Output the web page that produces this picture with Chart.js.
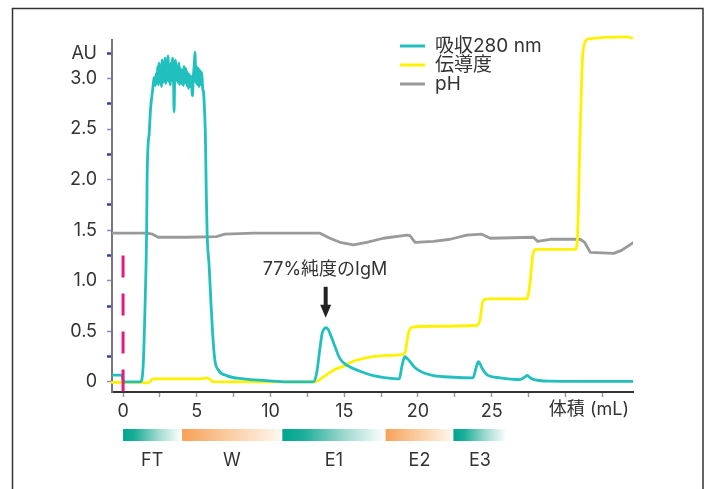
<!DOCTYPE html>
<html>
<head>
<meta charset="utf-8">
<script src="https://cdn.jsdelivr.net/npm/chart.js@4/dist/chart.umd.min.js"></script>
<style>
  body { margin: 0; background: #fff; }
  canvas { display: block; }
</style>
</head>
<body>
<canvas id="chromChart" width="710" height="489"></canvas>
<script>
// Absorbance at 280 nm (AU) against elution volume (mL), in three pieces
const absRiseVol = [-0.75, -0.1, 0.05, 1.18, 1.36, 1.5, 1.6, 1.63, 1.7, 1.77, 1.86, 2.0, 2.1];
const absRiseVal = [0.066, 0.066, 0.0, 0.0, 0.15, 0.8, 1.5, 2.0, 2.35, 2.45, 2.69, 2.88, 3.0];

const absTopVol = [2.15, 2.2, 2.25, 2.3, 2.35, 2.4, 2.45, 2.5, 2.55, 2.6, 2.65, 2.7, 2.75, 2.8,
    2.85, 2.9, 2.95, 3.0, 3.05, 3.1, 3.15, 3.2, 3.25, 3.3, 3.36, 3.42, 3.46, 3.5, 3.55, 3.6, 3.66,
    3.72, 3.78, 3.84, 3.9, 3.96, 4.02, 4.08, 4.14, 4.2, 4.26, 4.32, 4.38, 4.44, 4.5, 4.56, 4.62,
    4.68, 4.71, 4.76, 4.82, 4.88, 4.93, 4.98, 5.04, 5.1, 5.16, 5.22, 5.28, 5.34, 5.4, 5.46, 5.52];
const absTopVal = [3.01, 2.93, 3.05, 2.97, 3.12, 2.94, 3.15, 2.98, 3.08, 2.92, 3.18, 2.96, 3.1, 2.97,
    3.2, 2.95, 3.08, 2.98, 3.22, 2.97, 3.12, 2.94, 3.15, 2.98, 3.2, 3.0, 2.67, 3.0, 3.18, 2.98, 3.12,
    2.96, 3.15, 2.94, 3.1, 2.95, 3.08, 2.93, 3.12, 2.96, 3.1, 2.93, 3.06, 2.9, 3.04, 2.92, 3.02,
    2.86, 2.83, 3.0, 3.12, 3.26, 2.96, 3.12, 2.94, 3.1, 2.92, 3.08, 2.94, 3.06, 2.9, 2.86, 2.7];

const absTailVol = [5.58, 5.64, 5.7, 5.84, 5.95, 6.07, 6.22, 6.45, 7.02, 8.15, 9.73, 11.1, 12.9,
    13.13, 13.35, 13.5, 13.62, 13.76, 13.9, 14.03, 14.37, 14.71, 15.17, 16.07, 16.97, 17.88, 18.74,
    18.9, 19.05, 19.12, 19.2, 19.35, 19.8, 20.37, 21.05, 22.4, 23.72, 23.94, 24.05, 24.1, 24.17,
    24.33, 24.67, 25.57, 26.93, 27.3, 27.39, 27.5, 27.73, 28.97, 31.0, 34.6];
const absTailVal = [2.45, 1.9, 1.47, 1.14, 0.81, 0.49, 0.22, 0.12, 0.062, 0.03, 0.013, 0.0, 0.0,
    0.09, 0.33, 0.48, 0.52, 0.535, 0.52, 0.48, 0.35, 0.23, 0.165, 0.105, 0.062, 0.04, 0.03,
    0.15, 0.235, 0.25, 0.24, 0.22, 0.14, 0.09, 0.062, 0.046, 0.04, 0.14, 0.19, 0.2, 0.19, 0.14,
    0.072, 0.04, 0.023, 0.055, 0.065, 0.055, 0.03, 0.007, 0.005, 0.005];

// Conductivity trace (drawn on the same scale)
const condVol = [-0.75, 1.3, 1.59, 1.8, 2.04, 5.2, 5.5, 5.66, 5.85, 6.11, 13.01, 13.6, 14.26,
    15.17, 15.39, 16.52, 17.65, 18.9, 19.12, 19.35, 19.58, 21.05, 24.0, 24.2, 24.4, 24.67, 27.39,
    27.6, 27.8, 28.0, 30.67, 30.82, 30.96, 31.12, 31.23, 31.57, 34.2, 34.5];
const condVal = [-0.005, -0.005, -0.01, 0.0, 0.03, 0.03, 0.035, 0.04, 0.03, 0.0, 0.0, 0.05, 0.115,
    0.17, 0.19, 0.24, 0.26, 0.27, 0.29, 0.48, 0.54, 0.55, 0.56, 0.61, 0.795, 0.82, 0.82,
    0.98, 1.27, 1.31, 1.31, 1.44, 2.26, 3.08, 3.31, 3.39, 3.41, 3.4];

// pH trace
const phVol = [-0.75, 1.6, 2.0, 2.38, 4.3, 6.34, 6.9, 8.83, 13.35, 14.03, 14.71, 15.62, 16.52,
    17.65, 19.24, 19.46, 19.8, 21.05, 22.18, 23.31, 24.33, 24.9, 27.83, 28.1, 28.97, 31.0, 31.3,
    31.68, 33.27, 33.8, 34.62];
const phVal = [1.47, 1.47, 1.46, 1.43, 1.43, 1.436, 1.46, 1.47, 1.47, 1.42, 1.38, 1.355, 1.38,
    1.42, 1.45, 1.445, 1.38, 1.39, 1.41, 1.45, 1.46, 1.42, 1.43, 1.39, 1.41, 1.41, 1.38,
    1.28, 1.27, 1.3, 1.38];

const seriesNames = ['吸収280 nm', '伝導度', 'pH'];
const seriesColors = ['#22bfbf', '#fff200', '#9a9a9a'];

// Fraction bands under the axis
const fracNames = ['FT', 'W', 'E1', 'E2', 'E3'];
const fracStart = [0, 4.0, 10.8, 17.8, 22.4];
const fracEnd = [3.95, 10.75, 17.8, 22.4, 26.0];
const fracKind = ['teal', 'orange', 'teal', 'orange', 'teal'];

const yTicks = [0, 0.25, 0.5, 0.75, 1, 1.25, 1.5, 1.75, 2, 2.25, 2.5, 2.75, 3, 3.25];
const xTicks = [0, 2.5, 5, 7.5, 10, 12.5, 15, 17.5, 20, 22.5, 25, 27.5, 30, 32.5];
const xLabels = [0, 5, 10, 15, 20, 25];

const FONT = "Inter, 'Noto Sans CJK JP', sans-serif";
const TEXT = '#333333';

function toPoints(xs, ys) {
    return xs.map((x, i) => ({ x: x, y: ys[i] }));
}

const absPoints = toPoints(absRiseVol, absRiseVal)
    .concat(toPoints(absTopVol, absTopVal))
    .concat(toPoints(absTailVol, absTailVal));

const extras = {
    id: 'extras',
    beforeDraw(chart) {
        const c = chart.ctx;
        c.save();
        c.strokeStyle = '#333';
        c.lineWidth = 1.5;
        c.strokeRect(12.5, 8.5, 690.5, 600);
        c.restore();
    },
    afterDatasetsDraw(chart) {
        const c = chart.ctx;
        const xs = chart.scales.x;
        const ys = chart.scales.y;
        const area = chart.chartArea;
        c.save();

        // sample injection marker
        c.strokeStyle = '#e6197f';
        c.lineWidth = 3;
        c.setLineDash([22, 16]);
        c.beginPath();
        c.moveTo(xs.getPixelForValue(0), ys.getPixelForValue(1.25));
        c.lineTo(xs.getPixelForValue(0), area.bottom);
        c.stroke();
        c.setLineDash([]);

        // peak annotation
        const ax = xs.getPixelForValue(13.74);
        c.fillStyle = TEXT;
        c.font = '18px ' + FONT;
        c.textAlign = 'center';
        c.textBaseline = 'middle';
        c.fillText('77%純度のIgM', xs.getPixelForValue(13.69), ys.getPixelForValue(1.11));
        const yTop = ys.getPixelForValue(0.94);
        const yTip = ys.getPixelForValue(0.634);
        c.fillStyle = '#222';
        c.fillRect(ax - 2, yTop, 4, yTip - yTop - 10);
        c.beginPath();
        c.moveTo(ax - 5.5, yTip - 13);
        c.lineTo(ax + 5.5, yTip - 13);
        c.lineTo(ax, yTip);
        c.closePath();
        c.fill();

        // legend
        c.textAlign = 'left';
        c.font = '19px ' + FONT;
        const rows = [46, 65, 84];
        seriesNames.forEach((name, i) => {
            c.strokeStyle = seriesColors[i];
            c.lineWidth = 3;
            c.beginPath();
            c.moveTo(400, rows[i]);
            c.lineTo(425, rows[i]);
            c.stroke();
            c.fillStyle = TEXT;
            c.fillText(name, 435, rows[i]);
        });

        // x axis name at the end of the tick row
        c.font = '18px ' + FONT;
        c.textAlign = 'right';
        c.fillText('体積 (mL)', area.right - 4, 410);

        // fraction bands
        fracNames.forEach((name, i) => {
            const x0 = xs.getPixelForValue(fracStart[i]);
            const x1 = xs.getPixelForValue(fracEnd[i]);
            const g = c.createLinearGradient(x0, 0, x1, 0);
            if (fracKind[i] === 'teal') {
                g.addColorStop(0, '#00a58e');
                g.addColorStop(0.2, '#1aae99');
                g.addColorStop(0.6, '#9ed9cf');
                g.addColorStop(1, '#ffffff');
            } else {
                g.addColorStop(0, '#f7a157');
                g.addColorStop(0.5, '#fbcfa6');
                g.addColorStop(1, '#fff7ef');
            }
            c.fillStyle = g;
            c.fillRect(x0, 429, x1 - x0, 12);
            c.fillStyle = TEXT;
            c.textAlign = 'center';
            c.fillText(name, (x0 + x1) / 2, 461);
        });
        c.restore();
    }
};

new Chart(document.getElementById('chromChart'), {
    type: 'line',
    data: {
        datasets: [
            { label: seriesNames[0], data: absPoints, borderColor: seriesColors[0], borderWidth: 2.8, cubicInterpolationMode: 'monotone', order: 1 },
            { label: seriesNames[1], data: toPoints(condVol, condVal), borderColor: seriesColors[1], borderWidth: 2.8, cubicInterpolationMode: 'monotone', clip: false, order: 2 },
            { label: seriesNames[2], data: toPoints(phVol, phVal), borderColor: seriesColors[2], borderWidth: 2.8, order: 3 }
        ]
    },
    options: {
        responsive: false,
        animation: false,
        events: [],
        elements: { point: { radius: 0 }, line: { tension: 0, borderCapStyle: 'round', borderJoinStyle: 'round' } },
        layout: { padding: { left: 0, right: 77, top: 40, bottom: 0 } },
        plugins: { legend: { display: false }, tooltip: { enabled: false } },
        scales: {
            x: {
                type: 'linear',
                min: -0.75,
                max: 34.58,
                afterBuildTicks: scale => { scale.ticks = xTicks.map(v => ({ value: v })); },
                afterFit: scale => { scale.height = 97; },
                border: { color: '#333', width: 2 },
                grid: { drawOnChartArea: false, tickLength: 5, tickColor: '#999', tickWidth: 1.5 },
                ticks: {
                    autoSkip: false,
                    maxRotation: 0,
                    padding: 4,
                    color: TEXT,
                    font: { family: FONT, size: 18 },
                    callback: v => xLabels.includes(v) ? String(v) : ''
                }
            },
            y: {
                min: -0.1,
                max: 3.38,
                afterBuildTicks: scale => { scale.ticks = yTicks.map(v => ({ value: v })); },
                afterFit: scale => { scale.width = 112; },
                border: { color: '#777', width: 2 },
                grid: {
                    drawOnChartArea: false,
                    tickLength: 5,
                    tickColor: ctx => (ctx.tick && ctx.tick.value % 0.5 === 0) ? '#8a8ec8' : '#3b3f96',
                    tickWidth: ctx => (ctx.tick && ctx.tick.value % 0.5 === 0) ? 1.5 : 2.5
                },
                ticks: {
                    autoSkip: false,
                    padding: 10,
                    color: TEXT,
                    font: { family: FONT, size: 18 },
                    callback: v => {
                        if (v === 3.25) return 'AU';
                        if (v % 0.5 !== 0) return '';
                        return v === 0 ? '0' : v.toFixed(1);
                    }
                }
            }
        }
    },
    plugins: [extras]
});
</script>
</body>
</html>
